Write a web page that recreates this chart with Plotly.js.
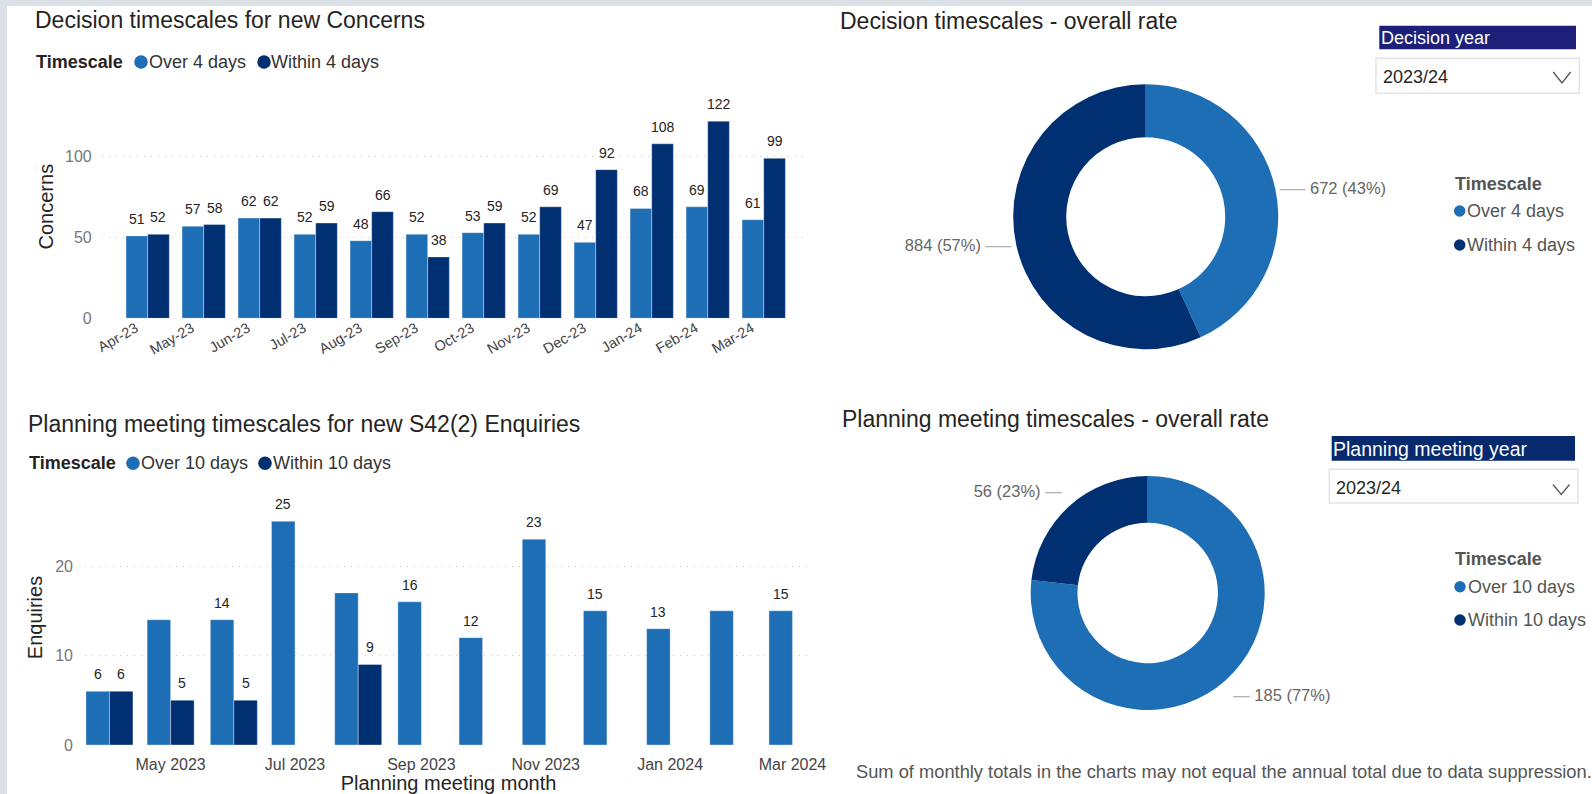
<!DOCTYPE html>
<html><head><meta charset="utf-8">
<script src="https://cdn.plot.ly/plotly-3.0.1.min.js"></script>
<style>html,body{margin:0;padding:0;background:#fff;overflow:hidden}#chart{width:1592px;height:794px}</style>
</head><body><div id="chart"></div>
<script>
// ---------- data ----------
const decisionMonths = ['Apr-23','May-23','Jun-23','Jul-23','Aug-23','Sep-23','Oct-23','Nov-23','Dec-23','Jan-24','Feb-24','Mar-24'];
const decisionOver   = [51,57,62,52,48,52,53,52,47,68,69,61];
const decisionWithin = [52,58,62,59,66,38,59,69,92,108,122,99];

const planningMonths = ['2023-04-01','2023-05-01','2023-06-01','2023-07-01','2023-08-01','2023-09-01','2023-10-01','2023-11-01','2023-12-01','2024-01-01','2024-02-01','2024-03-01'];
const planningOver   = [6,14,14,25,17,16,12,23,15,13,15,15];
const planningWithin = [6,5,5,null,9,null,null,null,null,null,null,null];
const planningOverLabelShown   = [1,0,1,1,0,1,1,1,1,1,0,1];
const planningWithinLabelShown = [1,1,1,0,1,0,0,0,0,0,0,0];

const decisionSeries = ['Over 4 days','Within 4 days'];
const decisionTotals = [672,884];
const planningSeries = ['Over 10 days','Within 10 days'];
const planningTotals = [185,56];

const decisionYear = '2023/24';
const planningYear = '2023/24';

// ---------- style ----------
const W = 1592, H = 794;
const X = p => p / W, Y = p => 1 - p / H;
const FONT = 'Liberation Sans, Arial, Helvetica, sans-serif';
const OVER = '#1D6EB5', WITHIN = '#003072';
const DAY = 86400000;
const barW = 11.53 * DAY;
const EDGE = {color:'rgba(255,255,255,0.35)', width:1};
const LEAD = '<span style="color:#B0B0B0">';
const PL = '%{value} (%{percent:.0%})';
const S = '<span style="font-size:16.5px">';
const SL = '<span style="font-size:16.5px;color:#B0B0B0">';

const traces = [
  {type:'bar', name:decisionSeries[0], x:decisionMonths, y:decisionOver, xaxis:'x', yaxis:'y',
   marker:{color:OVER, line:EDGE}, hoverinfo:'skip'},
  {type:'bar', name:decisionSeries[1], x:decisionMonths, y:decisionWithin, xaxis:'x', yaxis:'y',
   marker:{color:WITHIN, line:EDGE}, hoverinfo:'skip'},
  {type:'bar', name:planningSeries[0], x:planningMonths, y:planningOver, xaxis:'x2', yaxis:'y2',
   width:barW, offset:-barW, marker:{color:OVER, line:EDGE}, hoverinfo:'skip'},
  {type:'bar', name:planningSeries[1], x:planningMonths, y:planningWithin, xaxis:'x2', yaxis:'y2',
   width:barW, offset:0, marker:{color:WITHIN, line:EDGE}, hoverinfo:'skip'},
  {type:'pie', labels:decisionSeries, values:decisionTotals, hole:0.6, sort:false, direction:'clockwise', rotation:0,
   marker:{colors:[OVER,WITHIN], line:{width:0}}, textposition:'outside',
   texttemplate:[LEAD+'\u2014\u2013</span> '+PL, PL+' '+LEAD+'\u2013\u2014</span>'],
   textfont:{size:16.5,color:'#666'}, domain:{x:[X(1013.2),X(1278.2)], y:[Y(349.2),Y(84.2)]}, showlegend:false, hoverinfo:'skip'},
  {type:'pie', labels:planningSeries, values:planningTotals, hole:0.6, sort:false, direction:'clockwise', rotation:0,
   marker:{colors:[OVER,WITHIN], line:{width:0}}, textposition:'outside',
   texttemplate:[
     '<span style="font-size:15px">\u00A0</span><br>'+SL+'\u2014</span>'+S+'\u00A0'+PL+'</span>',
     S+PL+'\u00A0</span>'+SL+'\u2014</span><br>\u00A0'],
   textfont:{size:10,color:'#666'}, domain:{x:[X(1030.7),X(1264.7)], y:[Y(710),Y(476)]}, showlegend:false, hoverinfo:'skip'}
];

const grid = {showgrid:true, gridcolor:'#C4C4C4', griddash:'1px,6px', gridwidth:1, zeroline:false, showline:false, ticks:'', fixedrange:true};

const annotations = [];
const shapes = [];
function text(t, x, y, size, color, opts) {
  annotations.push(Object.assign({text:t, x:X(x), y:Y(y), xref:'paper', yref:'paper', xanchor:'left', yanchor:'middle',
    showarrow:false, borderpad:0, borderwidth:0, font:{family:FONT, size:size, color:color}}, opts||{}));
}
function barLabels(xs, ys, shown, xref, yref, xshift) {
  xs.forEach((x, i) => {
    const v = ys[i];
    if (v == null || (shown && !shown[i])) return;
    annotations.push({text:String(v), x:x, y:v, xref:xref, yref:yref, xanchor:'center', yanchor:'middle',
      xshift:xshift, yshift:17, showarrow:false, borderpad:0, borderwidth:0,
      font:{family:FONT, size:14, color:'#252423'}});
  });
}
function circle(cx, cy, d, color) {
  shapes.push({type:'circle', xref:'paper', yref:'paper', x0:X(cx-d/2), x1:X(cx+d/2), y0:Y(cy+d/2), y1:Y(cy-d/2),
    fillcolor:color, line:{width:0}});
}
function rect(x0, y0, x1, y1, fill, line) {
  shapes.push({type:'rect', xref:'paper', yref:'paper', x0:X(x0), x1:X(x1), y0:Y(y1), y1:Y(y0),
    fillcolor:fill, line:line||{width:0}, layer:'below'});
}
function chevron(x0, y0, x1, y1) {
  const xm = (x0 + x1) / 2;
  shapes.push({type:'path', xref:'paper', yref:'paper',
    path:`M ${X(x0)} ${Y(y0)} L ${X(xm)} ${Y(y1)} L ${X(x1)} ${Y(y0)}`, line:{color:'#555', width:1.3}});
}

// data labels
barLabels(decisionMonths, decisionOver, null, 'x', 'y', -10.82);
barLabels(decisionMonths, decisionWithin, null, 'x', 'y', 10.82);
barLabels(planningMonths, planningOver, planningOverLabelShown, 'x2', 'y2', -11.75);
barLabels(planningMonths, planningWithin, planningWithinLabelShown, 'x2', 'y2', 11.75);

// page frame
rect(0, 0, W, 6, '#DCE1E8');
rect(0, 0, 7, H, '#DCE1E8');

// titles
text('Decision timescales for new Concerns', 35, 20.5, 23, '#252423');
text('Planning meeting timescales for new S42(2) Enquiries', 28, 423.5, 23, '#252423');
text('Decision timescales - overall rate', 840, 20.7, 23, '#252423');
text('Planning meeting timescales - overall rate', 841.5, 419.3, 23, '#252423');

// bar legends
text('<b>Timescale</b>', 36, 61.7, 18, '#252423');
circle(141, 62, 13.5, OVER);   text(decisionSeries[0], 149, 61.7, 18, '#333');
circle(264, 62, 13.5, WITHIN); text(decisionSeries[1], 271, 61.7, 18, '#333');
text('<b>Timescale</b>', 29, 463, 18, '#252423');
circle(133, 463.3, 13.5, OVER);   text(planningSeries[0], 141, 463, 18, '#333');
circle(265, 463.3, 13.5, WITHIN); text(planningSeries[1], 273, 463, 18, '#333');

// pie legends
text('<b>Timescale</b>', 1454.5, 184, 18, '#555');
circle(1459.7, 211, 11.5, OVER);   text(decisionSeries[0], 1467, 211, 18, '#555');
circle(1459.7, 245, 11.5, WITHIN); text(decisionSeries[1], 1467, 245, 18, '#555');
text('<b>Timescale</b>', 1454.5, 559, 18, '#555');
circle(1460, 586.7, 11.5, OVER);   text(planningSeries[0], 1467.5, 586.7, 18, '#555');
circle(1460, 620, 11.5, WITHIN);   text(planningSeries[1], 1467.5, 620, 18, '#555');

// slicers
rect(1379.3, 25.7, 1576, 49.3, '#1E1F79');
text('Decision year', 1380.5, 37.8, 18, '#FFFFFF');
rect(1376, 58.3, 1579.3, 93.3, '#FFFFFF', {color:'#E4E4E4', width:1.5});
text(decisionYear, 1383, 77.3, 18, '#252423');
chevron(1553.3, 72, 1570.7, 83);
rect(1331.7, 436, 1575, 460.7, '#07296E');
text('Planning meeting year', 1332.5, 448.5, 19.5, '#FFFFFF');
rect(1329.3, 469.3, 1578, 503, '#FFFFFF', {color:'#E4E4E4', width:1.5});
text(planningYear, 1335.5, 488.3, 18, '#252423');
chevron(1553, 484.5, 1569.5, 494.5);

// footnote
text('Sum of monthly totals in the charts may not equal the annual total due to data suppression.', 855.5, 771.6, 18.3, '#555');

const layout = {
  width:W, height:H, margin:{l:0,r:0,t:0,b:0}, paper_bgcolor:'#FFFFFF', plot_bgcolor:'rgba(0,0,0,0)',
  showlegend:false, barmode:'group', bargap:0.227, bargroupgap:0,
  font:{family:FONT, color:'#252423'},
  xaxis:{domain:[X(101.7),X(806)], type:'category', range:[-0.821,11.755], tickangle:-30,
    tickfont:{size:14.5,color:'#444'}, showgrid:false, zeroline:false, showline:false, ticks:'',
    ticklabelstandoff:-2, ticklabelshift:-12, fixedrange:true, anchor:'y'},
  yaxis:Object.assign({}, grid, {domain:[Y(318.3),Y(95)], range:[0,138.2], tickvals:[0,50,100],
    tickfont:{size:16,color:'#777'}, ticklabelstandoff:9, anchor:'x',
    title:{text:'Concerns', font:{size:20,color:'#252423'}, standoff:5.5}}),
  xaxis2:{domain:[X(85),X(812)], type:'date', range:['2023-03-20','2024-03-10 14:00'], dtick:'M2', tick0:'2023-05-01',
    tickformat:'%b %Y', tickfont:{size:16,color:'#444'}, showgrid:false, zeroline:false, showline:false, ticks:'',
    ticklabelstandoff:8, fixedrange:true, anchor:'y2',
    title:{text:'Planning meeting month', font:{size:20,color:'#252423'}, standoff:4}},
  yaxis2:Object.assign({}, grid, {domain:[Y(745),Y(490)], range:[0,28.5], tickvals:[0,10,20],
    tickfont:{size:16,color:'#777'}, ticklabelstandoff:11, anchor:'x2',
    title:{text:'Enquiries', font:{size:20,color:'#252423'}, standoff:6.5}}),
  annotations:annotations, shapes:shapes
};

Plotly.newPlot('chart', traces, layout, {displayModeBar:false, staticPlot:true});
</script>
</body></html>
